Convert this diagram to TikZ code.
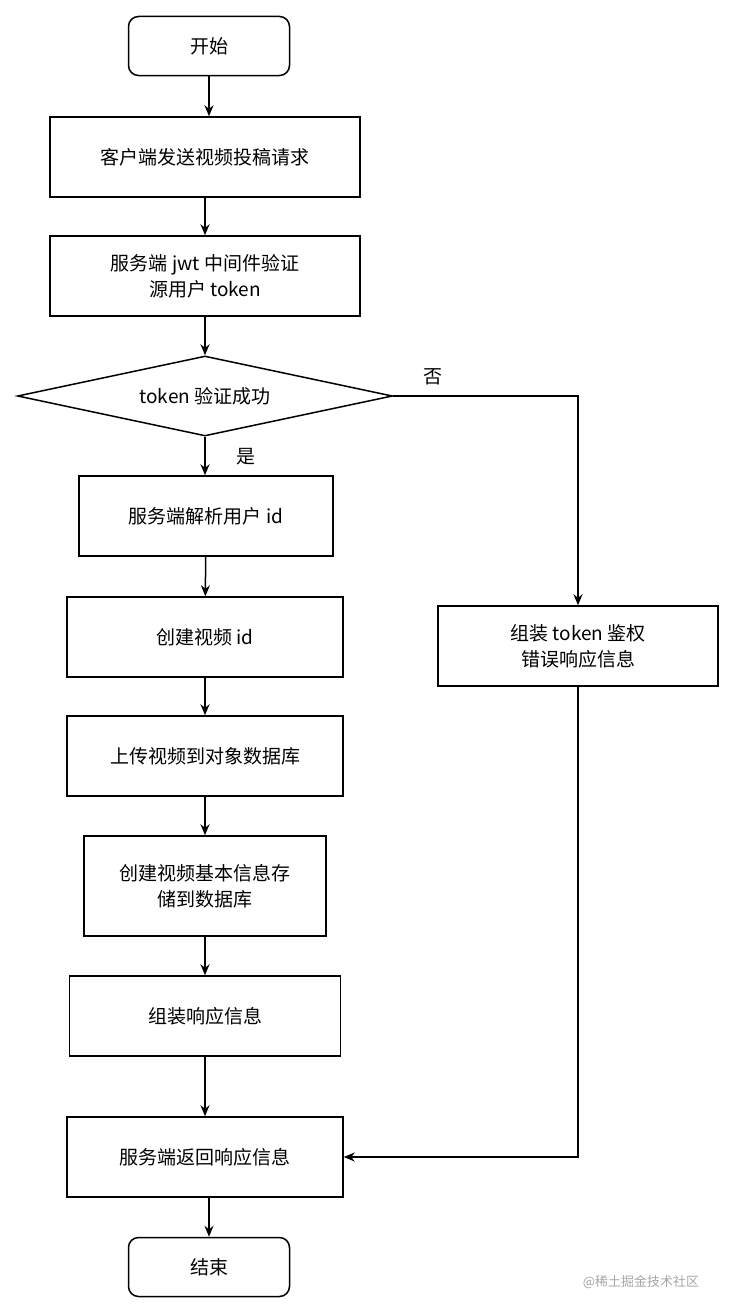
\documentclass[tikz,border=0pt]{standalone}
\usepackage{fontspec}
\setmainfont{Noto Sans CJK SC}
\usetikzlibrary{shapes.geometric,arrows.meta}
\begin{document}
\begin{tikzpicture}[x=1pt,y=-1pt,
  box/.style={draw,line width=1.5pt,minimum height=80pt,align=center,font=\fontsize{19}{26}\selectfont,inner sep=2pt},
  rbox/.style={box,rounded corners=10pt,minimum height=59pt,minimum width=161pt},
  arr/.style={line width=1.5pt,-{Stealth[length=11pt,width=9pt]}},
  lbl/.style={font=\fontsize{19}{22}\selectfont}]
\useasboundingbox (0,0) rectangle (735,1314);
\node[rbox] (start) at (209,46) {开始};
\node[box,minimum width=310pt] (b1) at (205,157) {客户端发送视频投稿请求};
\node[box,minimum width=310pt] (b2) at (205,276) {服务端 jwt 中间件验证\\源用户 token};
\node[diamond,draw,line width=1.5pt,aspect=4.69,minimum width=375pt,minimum height=80pt,inner sep=0pt,font=\fontsize{19}{22}\selectfont] (d) at (205,396) {token 验证成功};
\node[box,minimum width=254pt] (b3) at (206,516) {服务端解析用户 id};
\node[box,minimum width=276pt] (b4) at (205,637) {创建视频 id};
\node[box,minimum width=276pt] (b5) at (205,756) {上传视频到对象数据库};
\node[box,minimum width=242pt,minimum height=100pt] (b6) at (205,886) {创建视频基本信息存\\储到数据库};
\node[box,minimum width=271pt] (b7) at (205,1016) {组装响应信息};
\node[box,minimum width=276pt] (b8) at (205,1157) {服务端返回响应信息};
\node[rbox] (end) at (209,1267) {结束};
\node[box,minimum width=280pt] (r) at (578,646) {组装 token 鉴权\\错误响应信息};
\coordinate (c1) at (578,396);
\coordinate (c2) at (578,1157);
\draw[arr] (start.south) -- (start.south |- b1.north);
\draw[arr] (b1) -- (b2);
\draw[arr] (b2) -- (d);
\draw[arr] (d.south) -- (d.south |- b3.north);
\draw[arr] (b3) -- (b4);
\draw[arr] (b4) -- (b5);
\draw[arr] (b5) -- (b6);
\draw[arr] (b6) -- (b7);
\draw[arr] (b7) -- (b8);
\draw[arr] (b8.south -| end) -- (end);
\draw[arr] (d.east) -- (c1) -- (r.north);
\draw[arr] (r.south) -- (c2) -- (b8.east);
\node[lbl] (no) at (433,377) {否};
\node[lbl] (yes) at (246,457) {是};
\node[font=\fontsize{13}{15}\selectfont,text=gray!70] (wm) at (641,1282) {@稀土掘金技术社区};
\end{tikzpicture}
\end{document}
